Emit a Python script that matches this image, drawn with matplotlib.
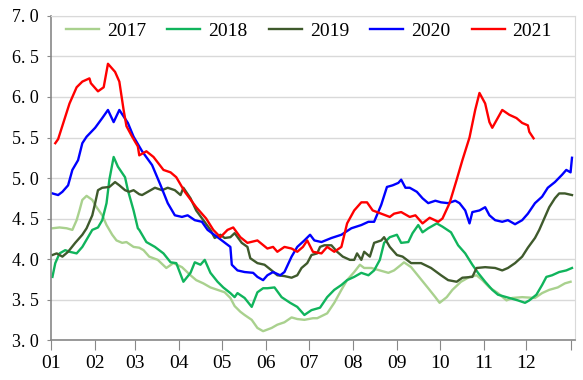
import matplotlib
matplotlib.use("Agg")
import matplotlib.pyplot as plt

# day of year / value pairs
days_2017 = [1, 6, 11, 15, 18, 20, 22, 25, 29, 32, 36, 39, 43, 46, 50, 53, 58, 62, 65, 69, 75, 81, 86, 92, 98,
             102, 107, 112, 117, 122, 126, 129, 133, 136, 141, 145, 149, 152, 155, 159, 164, 169, 173, 178, 184,
             187, 194, 199, 204, 208, 213, 217, 220, 225, 231, 237, 241, 246, 248, 253, 259, 265, 270, 273, 278,
             282, 288, 294, 299, 303, 308, 314, 320, 324, 331, 340, 345, 350, 356, 361, 365]
vals_2017 = [4.38, 4.39, 4.38, 4.36, 4.48, 4.60, 4.73, 4.78, 4.73, 4.64, 4.54, 4.42, 4.30, 4.23, 4.20, 4.21, 4.15,
             4.14, 4.11, 4.03, 3.99, 3.89, 3.95, 3.90, 3.80, 3.74, 3.70, 3.65, 3.62, 3.59, 3.52, 3.42, 3.35, 3.31,
             3.25, 3.15, 3.11, 3.13, 3.15, 3.19, 3.22, 3.28, 3.26, 3.25, 3.27, 3.27, 3.33, 3.46, 3.62, 3.74, 3.84,
             3.93, 3.89, 3.89, 3.86, 3.83, 3.86, 3.93, 3.96, 3.90, 3.77, 3.64, 3.53, 3.46, 3.53, 3.62, 3.72, 3.78,
             3.80, 3.74, 3.65, 3.58, 3.49, 3.52, 3.53, 3.52, 3.58, 3.62, 3.65, 3.70, 3.72]

days_2018 = [1, 3, 6, 10, 13, 18, 22, 26, 29, 33, 36, 39, 41, 44, 47, 52, 54, 58, 61, 62, 67, 73, 79, 84, 88, 93,
             98, 101, 105, 108, 112, 117, 121, 126, 129, 131, 136, 141, 145, 149, 152, 157, 162, 168, 173, 178,
             183, 189, 194, 199, 204, 208, 213, 218, 223, 227, 231, 234, 238, 243, 246, 251, 254, 258, 261, 265,
             271, 275, 281, 286, 291, 296, 300, 305, 310, 314, 322, 328, 333, 336, 341, 345, 348, 352, 357, 362, 366]
vals_2018 = [3.78, 3.95, 4.07, 4.11, 4.09, 4.07, 4.15, 4.27, 4.36, 4.39, 4.48, 4.69, 4.98, 5.26, 5.14, 5.01, 4.85,
             4.60, 4.38, 4.36, 4.21, 4.15, 4.07, 3.96, 3.95, 3.72, 3.83, 3.96, 3.93, 3.99, 3.83, 3.72, 3.65, 3.58,
             3.53, 3.58, 3.52, 3.41, 3.59, 3.64, 3.64, 3.65, 3.53, 3.46, 3.41, 3.31, 3.37, 3.40, 3.53, 3.62, 3.68,
             3.74, 3.78, 3.83, 3.80, 3.86, 3.99, 4.20, 4.27, 4.30, 4.20, 4.21, 4.32, 4.42, 4.33, 4.38, 4.44, 4.40,
             4.33, 4.17, 4.07, 3.93, 3.83, 3.72, 3.62, 3.56, 3.52, 3.49, 3.46, 3.49, 3.56, 3.68, 3.78, 3.80, 3.84,
             3.86, 3.89]

days_2019 = [1, 4, 8, 12, 17, 22, 25, 29, 31, 33, 36, 41, 45, 48, 52, 55, 58, 62, 64, 68, 73, 78, 82, 87, 91, 93,
             98, 102, 107, 112, 115, 119, 122, 126, 129, 134, 138, 140, 145, 150, 155, 159, 164, 169, 173, 176,
             180, 183, 187, 189, 192, 197, 201, 205, 210, 213, 215, 218, 220, 224, 227, 232, 234, 238, 243, 247,
             253, 260, 267, 274, 279, 285, 289, 296, 299, 305, 312, 317, 321, 326, 331, 335, 340, 343, 347, 350,
             354, 357, 361, 366]
vals_2019 = [4.05, 4.07, 4.03, 4.09, 4.20, 4.30, 4.38, 4.54, 4.69, 4.85, 4.88, 4.89, 4.95, 4.91, 4.85, 4.83, 4.85,
             4.80, 4.79, 4.83, 4.88, 4.85, 4.88, 4.85, 4.79, 4.88, 4.75, 4.60, 4.48, 4.36, 4.26, 4.30, 4.26, 4.27,
             4.32, 4.20, 4.15, 4.01, 3.95, 3.93, 3.86, 3.80, 3.79, 3.77, 3.80, 3.89, 3.95, 4.05, 4.07, 4.15, 4.17,
             4.17, 4.09, 4.03, 3.99, 3.99, 4.07, 3.99, 4.09, 4.03, 4.20, 4.23, 4.27, 4.15, 4.05, 4.03, 3.95, 3.95,
             3.89, 3.80, 3.74, 3.72, 3.77, 3.78, 3.89, 3.90, 3.89, 3.86, 3.89, 3.95, 4.03, 4.14, 4.26, 4.36, 4.52,
             4.64, 4.75, 4.81, 4.81, 4.79]

days_2020 = [1, 5, 8, 12, 15, 19, 22, 25, 31, 36, 40, 44, 48, 54, 58, 64, 71, 77, 82, 87, 92, 96, 101, 106, 110,
             117, 126, 127, 131, 136, 142, 145, 149, 152, 156, 161, 164, 169, 173, 178, 182, 185, 190, 197, 204,
             211, 218, 223, 227, 232, 236, 240, 244, 246, 249, 252, 257, 261, 265, 270, 274, 279, 284, 287, 291,
             294, 296, 301, 305, 308, 312, 317, 321, 326, 331, 335, 340, 345, 349, 354, 359, 362, 365, 366]
vals_2020 = [4.81, 4.79, 4.83, 4.91, 5.10, 5.22, 5.43, 5.51, 5.62, 5.74, 5.84, 5.69, 5.84, 5.68, 5.51, 5.33, 5.16,
             4.91, 4.69, 4.54, 4.52, 4.54, 4.48, 4.46, 4.36, 4.27, 4.15, 3.93, 3.86, 3.84, 3.83, 3.78, 3.74, 3.80,
             3.84, 3.80, 3.84, 4.03, 4.15, 4.23, 4.30, 4.23, 4.21, 4.26, 4.30, 4.38, 4.42, 4.46, 4.46, 4.67, 4.89,
             4.91, 4.94, 4.98, 4.88, 4.88, 4.83, 4.75, 4.69, 4.72, 4.70, 4.69, 4.72, 4.69, 4.60, 4.44, 4.58, 4.60,
             4.64, 4.54, 4.48, 4.46, 4.48, 4.43, 4.48, 4.56, 4.69, 4.77, 4.88, 4.95, 5.04, 5.10, 5.07, 5.25]

days_2021 = [3, 5, 13, 18, 22, 27, 28, 33, 37, 40, 45, 48, 51, 53, 57, 61, 62, 67, 72, 79, 84, 88, 92, 94, 102,
             109, 114, 119, 124, 128, 133, 138, 145, 152, 156, 159, 164, 169, 173, 177, 180, 184, 190, 194, 199,
             204, 208, 213, 218, 222, 226, 232, 238, 241, 246, 252, 256, 261, 266, 272, 275, 280, 285, 289, 294,
             298, 301, 305, 308, 310, 317, 322, 327, 331, 335, 336, 339]
vals_2021 = [5.43, 5.48, 5.92, 6.12, 6.19, 6.23, 6.17, 6.07, 6.12, 6.41, 6.31, 6.19, 5.84, 5.64, 5.51, 5.39, 5.28,
             5.33, 5.26, 5.10, 5.07, 5.01, 4.89, 4.83, 4.64, 4.50, 4.36, 4.27, 4.36, 4.39, 4.27, 4.20, 4.23, 4.13,
             4.15, 4.09, 4.15, 4.13, 4.09, 4.15, 4.23, 4.09, 4.07, 4.15, 4.09, 4.15, 4.44, 4.60, 4.70, 4.70, 4.60,
             4.56, 4.52, 4.56, 4.58, 4.52, 4.54, 4.44, 4.51, 4.46, 4.50, 4.69, 4.98, 5.22, 5.50, 5.84, 6.05, 5.92,
             5.69, 5.62, 5.84, 5.78, 5.74, 5.68, 5.65, 5.57, 5.49]

month_starts = [0, 31, 59, 90, 120, 151, 181, 212, 243, 273, 304, 334, 365]
month_labels = ["01", "02", "03", "04", "05", "06", "07", "08", "09", "10", "11", "12"]
y_ticks = [3.0, 3.5, 4.0, 4.5, 5.0, 5.5, 6.0, 6.5, 7.0]

plt.rcParams['font.family'] = ['Liberation Serif', 'DejaVu Serif']

fig = plt.figure(figsize=(5.83, 3.8), dpi=100)
ax = fig.add_axes([0.0875, 0.105, 0.8985, 0.853])

series = [
    ("2017", days_2017, vals_2017, "#a9d18e"),
    ("2018", days_2018, vals_2018, "#10b45c"),
    ("2019", days_2019, vals_2019, "#3f5a2c"),
    ("2020", days_2020, vals_2020, "#0000ff"),
    ("2021", days_2021, vals_2021, "#ff0000"),
]
for name, d, v, c in series:
    ax.plot(d, v, color=c, lw=1.7, label=name)

ax.set_xlim(0, 368)
ax.set_ylim(3.0, 7.0)
ax.set_yticks(y_ticks)
ax.set_yticklabels([f"{t:.1f}".replace(".", ". ") for t in y_ticks], fontsize=13)

# ticks at month boundaries, labels under each boundary
ax.set_xticks(month_starts)
ax.set_xticklabels(month_labels + [""], fontsize=14)

ax.grid(axis="y", color="#d9d9d9", lw=1)
ax.set_axisbelow(True)
for s in ["top", "right"]:
    ax.spines[s].set_color("#d9d9d9")
for s in ["left", "bottom"]:
    ax.spines[s].set_color("#888888")
    ax.spines[s].set_linewidth(1.2)
ax.tick_params(axis="x", length=7, color="#888888", pad=4)
ax.tick_params(axis="y", length=3, color="#888888", pad=6)

ax.legend(loc="upper left", bbox_to_anchor=(-0.005, 1.035), ncol=5, frameon=False, fontsize=14,
          handlelength=1.7, handletextpad=0.4, columnspacing=1.1)

fig.savefig("out.png")
